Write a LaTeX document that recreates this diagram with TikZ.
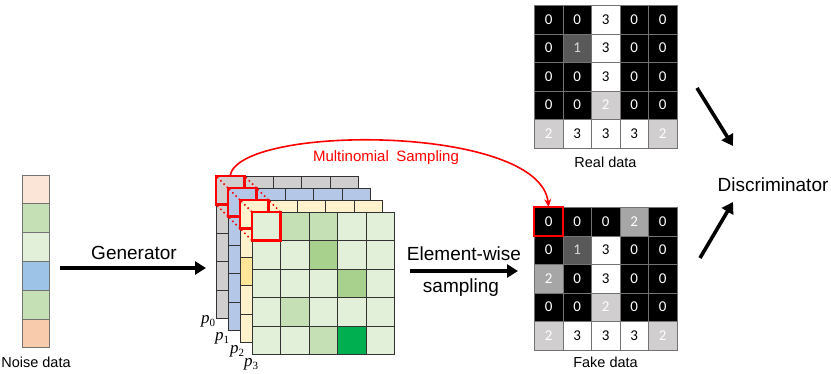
\documentclass[tikz,border=0pt]{standalone}
\usepackage{fontspec}
\setmainfont{Liberation Sans}
\newfontfamily\numfont{Carlito}
\newfontfamily\pfont{Liberation Serif}
\usetikzlibrary{arrows.meta}
\definecolor{nzA}{HTML}{FBE5D6}
\definecolor{nzB}{HTML}{C5E0B4}
\definecolor{nzC}{HTML}{E2F0D9}
\definecolor{nzD}{HTML}{9DC3E6}
\definecolor{nzE}{HTML}{F8CBAD}
\definecolor{lyGray}{HTML}{D0CECE}
\definecolor{lyBlue}{HTML}{B4C7E7}
\definecolor{lyYel}{HTML}{FFF2CC}
\definecolor{lyYelD}{HTML}{FFE699}
\definecolor{gL}{HTML}{E2F0D9}
\definecolor{gM}{HTML}{C5E0B4}
\definecolor{gD}{HTML}{A9D18E}
\definecolor{gG}{HTML}{00B050}
\definecolor{cDark}{HTML}{595959}
\definecolor{cLight}{HTML}{D0CECE}
\definecolor{cMed}{HTML}{A6A6A6}
\definecolor{redC}{HTML}{FF0000}
\newcommand\plab[1]{{\pfont\itshape p}\raisebox{-0.35ex}{\pfont\fontsize{11}{11}\selectfont #1}}
\begin{document}
\begin{tikzpicture}[x=1pt,y=-1pt,
  bigtxt/.style={font=\fontsize{19}{19}\selectfont, inner sep=0},
  lbltxt/.style={font=\fontsize{14.5}{14.5}\selectfont, inner sep=0},
  ptxt/.style={font=\fontsize{17}{17}\selectfont, inner sep=0},
  noisecell/.style={draw=black!55, line width=0.7pt},
  lygrid/.style={draw=black!80, line width=0.8pt},
  redbox/.style={draw=redC, line width=2.4pt},
  reddot/.style={draw=redC, line width=2.2pt, line cap=round, dash pattern=on 0pt off 4.6pt, dash phase=-2.3pt},
  bigarrow/.style={line width=3.6pt, -{Triangle[length=11pt,width=13pt]}},
  numcell/.style={minimum size=28.5pt, inner sep=0, draw=black!55, line width=0.6pt,
     anchor=north west, font=\numfont\fontsize{15}{15}\selectfont},
  v0/.style={fill=black, text=white},
  v1/.style={fill=cDark, text=black!15},
  v2/.style={fill=cLight, text=white},
  vm/.style={fill=cMed, text=white},
  v3/.style={fill=white, text=black},
]
\useasboundingbox (0,0) rectangle (831,373);
\def\cs{28.5}

% ---------- noise data ----------
\foreach \c [count=\i from 0] in {nzA,nzB,nzC,nzD,nzB,nzE}
  \draw[noisecell, fill=\c] (22,{175+\i*28.8}) rectangle ++(27,28.8);
\node[lbltxt] (noiselbl) at (36,362) {Noise data};

% ---------- generator arrow ----------
\coordinate (genS) at (60,268);
\coordinate (genE) at (206,268);
\draw[bigarrow] (genS) -- (genE);
\node[bigtxt] (genlbl) at (134,253) {Generator};

% ---------- layers ----------
% p0 gray
\fill[lyGray] (216,176) rectangle ++({5*\cs},{5*\cs});
\foreach \i in {0,...,4} \foreach \j in {0,...,4}
  \draw[lygrid] ({216+\i*\cs},{176+\j*\cs}) rectangle ++(\cs,\cs);
\draw[redbox] (216,176) rectangle ++(\cs,\cs);
\draw[reddot] (216,176) -- ++(12,12);
\draw[reddot] ({216+\cs},176) -- ++(12,12);
\draw[reddot] (216,{176+\cs}) -- ++(12,12);
% p1 blue
\fill[lyBlue] (228,188) rectangle ++({5*\cs},{5*\cs});
\foreach \i in {0,...,4} \foreach \j in {0,...,4}
  \draw[lygrid] ({228+\i*\cs},{188+\j*\cs}) rectangle ++(\cs,\cs);
\draw[redbox] (228,188) rectangle ++(\cs,\cs);
\draw[reddot] (228,188) -- ++(12,12);
\draw[reddot] ({228+\cs},188) -- ++(12,12);
\draw[reddot] (228,{188+\cs}) -- ++(12,12);
% p2 yellow
\fill[lyYel] (240,200) rectangle ++({5*\cs},{5*\cs});
\fill[lyYelD] (240,{200+2*\cs}) rectangle ++(\cs,\cs);
\foreach \i in {0,...,4} \foreach \j in {0,...,4}
  \draw[lygrid] ({240+\i*\cs},{200+\j*\cs}) rectangle ++(\cs,\cs);
\draw[redbox] (240,200) rectangle ++(\cs,\cs);
\draw[reddot] (240,200) -- ++(12,12);
\draw[reddot] ({240+\cs},200) -- ++(12,12);
\draw[reddot] (240,{200+\cs}) -- ++(12,12);
% p3 green
\foreach \row [count=\j from 0] in {{gL,gM,gM,gL,gL},{gL,gL,gD,gL,gL},{gL,gL,gL,gD,gL},{gL,gM,gL,gL,gL},{gL,gL,gM,gG,gL}}
  \foreach \c [count=\i from 0] in \row
    \draw[lygrid, fill=\c] ({252+\i*\cs},{212+\j*\cs}) rectangle ++(\cs,\cs);
\draw[redbox] (252,212) rectangle ++(\cs,\cs);

\node[ptxt] (p0) at (208,321) {\plab{0}};
\node[ptxt] (p1) at (222,338) {\plab{1}};
\node[ptxt] (p2) at (237,351) {\plab{2}};
\node[ptxt] (p3) at (251,364) {\plab{3}};

% ---------- element-wise arrow ----------
\coordinate (elS) at (410,271);
\coordinate (elE) at (518,271);
\draw[bigarrow] (elS) -- (elE);
\node[bigtxt] (ellbl1) at (464,254) {Element-wise};
\node[bigtxt] (ellbl2) at (461,288) {sampling};

% ---------- real data ----------
\foreach \row [count=\r from 0] in {{0/0,0/0,3/3,0/0,0/0},{0/0,1/1,3/3,0/0,0/0},{0/0,0/0,3/3,0/0,0/0},{0/0,0/0,2/2,0/0,0/0},{2/2,3/3,3/3,3/3,2/2}}
  \foreach \t/\v [count=\c from 0] in \row
    \node[numcell, v\t] (real-\r-\c) at ({534+\c*\cs},{5+\r*\cs}) {\v};
\node[lbltxt] (reallbl) at (605.5,162) {Real data};

% ---------- fake data ----------
\foreach \row [count=\r from 0] in {{0/0,0/0,0/0,m/2,0/0},{0/0,1/1,3/3,0/0,0/0},{m/2,0/0,3/3,0/0,0/0},{0/0,0/0,2/2,0/0,0/0},{2/2,3/3,3/3,3/3,2/2}}
  \foreach \t/\v [count=\c from 0] in \row
    \node[numcell, v\t] (fake-\r-\c) at ({534+\c*\cs},{207+\r*\cs}) {\v};
\draw[redbox] (fake-0-0.north west) rectangle (fake-0-0.south east);
\node[lbltxt] (fakelbl) at (605.5,362) {Fake data};

% ---------- multinomial sampling ----------
\coordinate (msS) at (230,176);
\draw[draw=redC, line width=1.6pt, -{Stealth[length=8pt,width=7pt]}]
  (msS) .. controls (238,124) and (540,124) .. (fake-0-0.north);
\node[lbltxt, text=redC, font=\fontsize{15}{15}\selectfont] (mslbl) at (386,158) {Multinomial\enspace Sampling};

% ---------- discriminator ----------
\node[bigtxt] (disc) at (773,185) {Discriminator};
\coordinate (dA) at (697,88);
\coordinate (dB) at (733,146);
\coordinate (dC) at (700,258);
\coordinate (dD) at (733,202);
\draw[bigarrow] (dA) -- (dB);
\draw[bigarrow] (dC) -- (dD);
\end{tikzpicture}
\end{document}
